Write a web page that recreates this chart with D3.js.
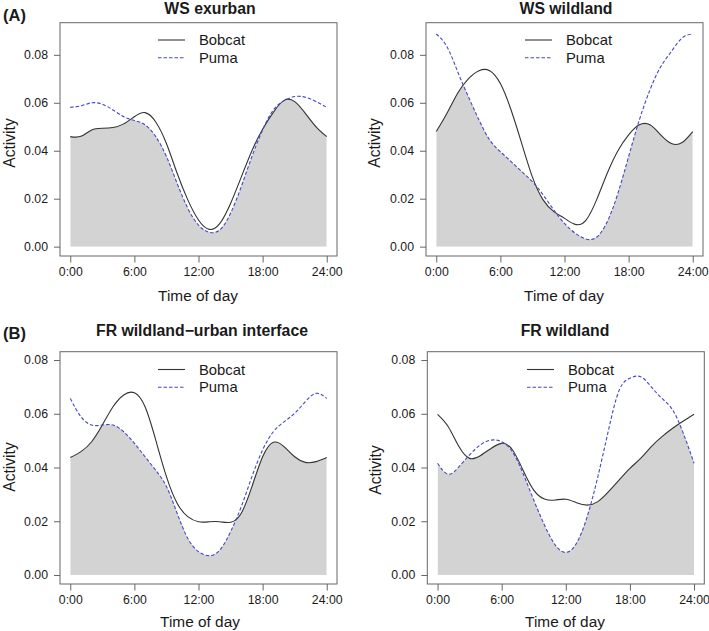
<!DOCTYPE html>
<html>
<head>
<meta charset="utf-8">
<script src="https://cdn.jsdelivr.net/npm/d3@7"></script>
<style>
  html, body { margin: 0; padding: 0; background: #fff; }
  svg { display: block; font-family: "Liberation Sans", Arial, sans-serif; }
</style>
</head>
<body>
<svg id="chart" width="709" height="631"></svg>
<script>
// ---- Data ----
const hours = d3.range(0, 25); // 0..24 hourly
const xTicks = [0, 6, 12, 18, 24];
const xTickLabels = ["0:00", "6:00", "12:00", "18:00", "24:00"];
const yTicks = [0, 0.02, 0.04, 0.06, 0.08];
const seriesNames = ["Bobcat", "Puma"];
const panelTitles = ["WS exurban", "WS wildland", "FR wildland\u2212urban interface", "FR wildland"];
const panelTags = ["(A)", "(B)"];

const wsExurbanBobcat = [0.0459,0.0460,0.0487,0.0494,0.0497,0.0512,0.0542,0.0559,0.0520,0.0430,0.0306,0.0195,0.0111,0.0072,0.0097,0.0180,0.0290,0.0400,0.0490,0.0560,0.0610,0.0605,0.0556,0.0500,0.0459];
const wsExurbanPuma   = [0.0581,0.0587,0.0600,0.0594,0.0570,0.0542,0.0526,0.0508,0.0459,0.0376,0.0264,0.0160,0.0090,0.0060,0.0070,0.0139,0.0250,0.0376,0.0487,0.0570,0.0608,0.0626,0.0623,0.0605,0.0581];

const wsWildBobcat = [0.0480,0.0556,0.0640,0.0700,0.0734,0.0734,0.0680,0.0570,0.0430,0.0290,0.0195,0.0146,0.0118,0.0093,0.0110,0.0195,0.0306,0.0400,0.0466,0.0508,0.0508,0.0466,0.0430,0.0434,0.0480];
const wsWildPuma   = [0.0887,0.0834,0.0730,0.0626,0.0528,0.0445,0.0396,0.0355,0.0313,0.0271,0.0216,0.0153,0.0097,0.0056,0.0032,0.0039,0.0104,0.0223,0.0376,0.0528,0.0654,0.0750,0.0814,0.0870,0.0887];

const frWuiBobcat = [0.0437,0.0459,0.0496,0.0558,0.0626,0.0670,0.0678,0.0626,0.0502,0.0366,0.0267,0.0217,0.0198,0.0198,0.0198,0.0196,0.0230,0.0329,0.0440,0.0494,0.0478,0.0440,0.0419,0.0422,0.0437];
const frWuiPuma   = [0.0657,0.0589,0.0558,0.0558,0.0558,0.0533,0.0490,0.0440,0.0390,0.0329,0.0230,0.0136,0.0087,0.0072,0.0093,0.0161,0.0254,0.0366,0.0465,0.0533,0.0570,0.0602,0.0645,0.0676,0.0657];

const frWildBobcat = [0.0598,0.0552,0.0478,0.0434,0.0444,0.0471,0.0490,0.0466,0.0390,0.0316,0.0283,0.0279,0.0282,0.0269,0.0260,0.0273,0.0310,0.0354,0.0397,0.0434,0.0478,0.0515,0.0546,0.0573,0.0598];
const frWildPuma   = [0.0416,0.0375,0.0403,0.0447,0.0484,0.0502,0.0496,0.0459,0.0378,0.0279,0.0186,0.0112,0.0084,0.0118,0.0217,0.0366,0.0540,0.0688,0.0732,0.0738,0.0700,0.0657,0.0614,0.0527,0.0416];

// ---- Layout ----
const panels = [
  { title: panelTitles[0], bob: wsExurbanBobcat, puma: wsExurbanPuma,
    box: {x0: 60, x1: 337, y0: 22.7, y1: 256}, yDom: [-0.0039, 0.0934],
    titleX: 210, titleY: 8, legX: 158, legY: 40, ylabX: 9, ylabY: 143, xlabX: 198, xlabY: 295 },
  { title: panelTitles[1], bob: wsWildBobcat, puma: wsWildPuma,
    box: {x0: 426, x1: 703, y0: 22.7, y1: 256}, yDom: [-0.0039, 0.0934],
    titleX: 566, titleY: 8, legX: 525, legY: 40, ylabX: 374, ylabY: 143, xlabX: 564, xlabY: 295 },
  { title: panelTitles[2], bob: frWuiBobcat, puma: frWuiPuma,
    box: {x0: 60, x1: 337, y0: 351.7, y1: 584}, yDom: [-0.00335, 0.0831],
    titleX: 202, titleY: 330, legX: 158, legY: 369.5, ylabX: 9, ylabY: 467, xlabX: 200, xlabY: 621.5 },
  { title: panelTitles[3], bob: frWildBobcat, puma: frWildPuma,
    box: {x0: 427.3, x1: 704.3, y0: 351.7, y1: 584}, yDom: [-0.00335, 0.0831],
    titleX: 565, titleY: 330, legX: 527, legY: 369.5, ylabX: 375, ylabY: 470, xlabX: 565, xlabY: 621.5 }
];

const svg = d3.select("#chart");
const fillCol = "#d3d3d3", bobCol = "#333333", pumaCol = "#4646c8", axisCol = "#666666", textCol = "#1a1a1a";

panels.forEach((p, i) => {
  const x = d3.scaleLinear().domain([-0.96, 24.96]).range([p.box.x0, p.box.x1]);
  const y = d3.scaleLinear().domain(p.yDom).range([p.box.y1, p.box.y0]);
  const g = svg.append("g");

  const curve = d3.curveNatural;
  const areaGen = d3.area().x((d, j) => x(hours[j])).y0(y(0)).y1(d => y(d)).curve(curve);
  const lineGen = d3.line().x((d, j) => x(hours[j])).y(d => y(d)).curve(curve);

  // overlap area = area under bobcat clipped by area under puma
  const clipId = "clip" + i;
  g.append("clipPath").attr("id", clipId).append("path").attr("d", areaGen(p.puma));
  g.append("path").attr("d", areaGen(p.bob)).attr("fill", fillCol).attr("clip-path", `url(#${clipId})`);

  g.append("path").attr("d", lineGen(p.bob)).attr("fill", "none").attr("stroke", bobCol).attr("stroke-width", 1.1);
  g.append("path").attr("d", lineGen(p.puma)).attr("fill", "none").attr("stroke", pumaCol)
    .attr("stroke-width", 1.1).attr("stroke-dasharray", "3.5,2");

  // box
  g.append("rect").attr("x", p.box.x0).attr("y", p.box.y0)
    .attr("width", p.box.x1 - p.box.x0).attr("height", p.box.y1 - p.box.y0)
    .attr("fill", "none").attr("stroke", axisCol).attr("stroke-width", 1);

  // x axis
  const xAxis = d3.axisBottom(x).tickValues(xTicks).tickSize(6.5).tickPadding(5)
    .tickFormat((d, k) => xTickLabels[k]);
  const gx = g.append("g").attr("transform", `translate(0,${p.box.y1})`).call(xAxis);
  gx.select(".domain").remove();
  gx.selectAll("line").attr("stroke", axisCol);
  gx.selectAll("text").attr("fill", textCol).style("font-size", "12.3px")
    .attr("font-family", "Liberation Sans, Arial, sans-serif");

  // y axis
  const yAxis = d3.axisLeft(y).tickValues(yTicks).tickSize(6).tickPadding(6)
    .tickFormat(d3.format(".2f"));
  const gy = g.append("g").attr("transform", `translate(${p.box.x0},0)`).call(yAxis);
  gy.select(".domain").remove();
  gy.selectAll("line").attr("stroke", axisCol);
  gy.selectAll("text").attr("fill", textCol).style("font-size", "12.3px")
    .attr("font-family", "Liberation Sans, Arial, sans-serif");

  // title
  g.append("text").attr("x", p.titleX).attr("y", p.titleY).attr("text-anchor", "middle")
    .attr("dominant-baseline", "central").attr("font-weight", "bold").attr("font-size", 15.8)
    .attr("fill", textCol).text(p.title);

  // axis labels
  g.append("text").attr("x", p.xlabX).attr("y", p.xlabY).attr("text-anchor", "middle")
    .attr("dominant-baseline", "central").attr("font-size", 15.4).attr("fill", textCol).text("Time of day");
  g.append("text").attr("transform", `translate(${p.ylabX},${p.ylabY}) rotate(-90)`).attr("text-anchor", "middle")
    .attr("dominant-baseline", "central").attr("font-size", 15.6).attr("fill", textCol).text("Activity");

  // legend
  const lg = g.append("g");
  [0, 1].forEach(k => {
    const ly = p.legY + k * 17.7;
    lg.append("line").attr("x1", p.legX).attr("x2", p.legX + 27).attr("y1", ly).attr("y2", ly)
      .attr("stroke", k === 0 ? bobCol : pumaCol).attr("stroke-width", 1.1)
      .attr("stroke-dasharray", k === 0 ? null : "3.5,2");
    lg.append("text").attr("x", p.legX + 41).attr("y", ly).attr("dominant-baseline", "central")
      .attr("font-size", 14.8).attr("fill", textCol).text(seriesNames[k]);
  });
});

// panel tags
svg.append("text").attr("x", 3).attr("y", 14.5).attr("dominant-baseline", "central")
  .attr("font-weight", "bold").attr("font-size", 16.5).attr("fill", textCol).text(panelTags[0]);
svg.append("text").attr("x", 3).attr("y", 333).attr("dominant-baseline", "central")
  .attr("font-weight", "bold").attr("font-size", 16.5).attr("fill", textCol).text(panelTags[1]);
</script>
</body>
</html>
